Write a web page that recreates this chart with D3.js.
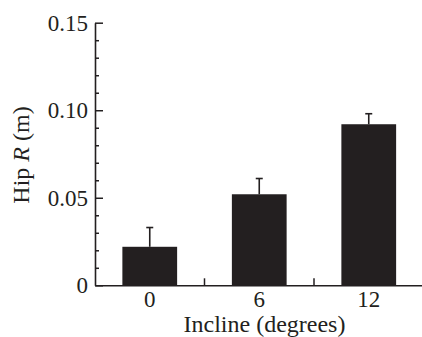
<!DOCTYPE html>
<html>
<head>
<meta charset="utf-8">
<script src="https://cdn.jsdelivr.net/npm/d3@7"></script>
<style>
  html, body { margin: 0; padding: 0; background: #fff; }
  svg { display: block; }
  text { font-family: "Liberation Serif", "Times New Roman", serif; fill: #231f20; }
</style>
</head>
<body>
<svg id="chart" width="422" height="337"></svg>
<script>
// incline categories (degrees)
const inclines = ['0', '6', '12']
// mean hip R (m) and upper error
const hipR = [0.022, 0.052, 0.092]
const hipErr = [0.011, 0.009, 0.006]
const yMajorTicks = [0, 0.05, 0.10, 0.15]
const yMinorTicks = [0.01, 0.02, 0.03, 0.04, 0.06, 0.07, 0.08, 0.09, 0.11, 0.12, 0.13, 0.14]

const ink = '#231f20'
const svg = d3.select('#chart')
const x = d3.scaleBand().domain(inclines).range([95, 423.5]).paddingInner(0.5).paddingOuter(0.25)
const y = d3.scaleLinear().domain([0, 0.15]).range([285.3, 22.7])

// bars
svg.append('g').selectAll('rect').data(inclines).join('rect')
  .attr('x', (d) => x(d))
  .attr('y', (d, i) => y(hipR[i]))
  .attr('width', x.bandwidth())
  .attr('height', (d, i) => y(0) - y(hipR[i]))
  .attr('fill', ink)

// error bars (upper only)
const err = svg.append('g').attr('stroke', ink).attr('stroke-width', 1.6)
err.selectAll('line.stem').data(inclines).join('line').attr('class', 'stem')
  .attr('x1', (d) => x(d) + x.bandwidth() / 2).attr('x2', (d) => x(d) + x.bandwidth() / 2)
  .attr('y1', (d, i) => y(hipR[i])).attr('y2', (d, i) => y(hipR[i] + hipErr[i]))
err.selectAll('line.cap').data(inclines).join('line').attr('class', 'cap')
  .attr('x1', (d) => x(d) + x.bandwidth() / 2 - 3.5).attr('x2', (d) => x(d) + x.bandwidth() / 2 + 3.5)
  .attr('y1', (d, i) => y(hipR[i] + hipErr[i])).attr('y2', (d, i) => y(hipR[i] + hipErr[i]))

// y axis: minor ticks then major with labels
svg.append('g').attr('transform', 'translate(95,0)')
  .call(d3.axisLeft(y).tickValues(yMinorTicks).tickSize(-4).tickSizeOuter(0).tickFormat(''))
  .call((g) => g.select('.domain').remove())
  .call((g) => g.selectAll('line').attr('stroke', ink).attr('stroke-width', 1.5))
svg.append('g').attr('transform', 'translate(95,0)')
  .call(d3.axisLeft(y).tickValues(yMajorTicks).tickSize(-8).tickSizeOuter(0).tickPadding(7)
    .tickFormat((v) => (v === 0 ? '0' : d3.format('.2f')(v))))
  .call((g) => g.select('.domain').attr('stroke', ink).attr('stroke-width', 1.6))
  .call((g) => g.selectAll('line').attr('stroke', ink).attr('stroke-width', 1.5))
  .call((g) => g.selectAll('text').attr('font-size', 23).attr('font-family', null).attr('fill', ink))

// x axis
const xAxis = svg.append('g').attr('transform', `translate(0,${y(0)})`)
  .call(d3.axisBottom(x).tickSize(0).tickSizeOuter(0).tickPadding(5))
xAxis.select('.domain').attr('stroke', ink).attr('stroke-width', 1.6)
xAxis.selectAll('text').attr('font-size', 23).attr('font-family', null).attr('fill', ink)
// separator ticks between categories
xAxis.selectAll('line.sep').data(inclines.slice(1)).join('line').attr('class', 'sep')
  .attr('x1', (d) => x(d) - x.step() * x.paddingInner() / 2).attr('x2', (d) => x(d) - x.step() * x.paddingInner() / 2)
  .attr('y1', 0).attr('y2', -7)
  .attr('stroke', ink).attr('stroke-width', 1.5)

// axis titles
svg.append('text').attr('x', 264.5).attr('y', 332).attr('text-anchor', 'middle').attr('font-size', 24)
  .text('Incline (degrees)')
const yTitle = svg.append('text').attr('transform', 'translate(29,155) rotate(-90)')
  .attr('text-anchor', 'middle').attr('font-size', 24)
yTitle.append('tspan').text('Hip ')
yTitle.append('tspan').attr('font-style', 'italic').text('R')
yTitle.append('tspan').text(' (m)')
</script>
</body>
</html>
